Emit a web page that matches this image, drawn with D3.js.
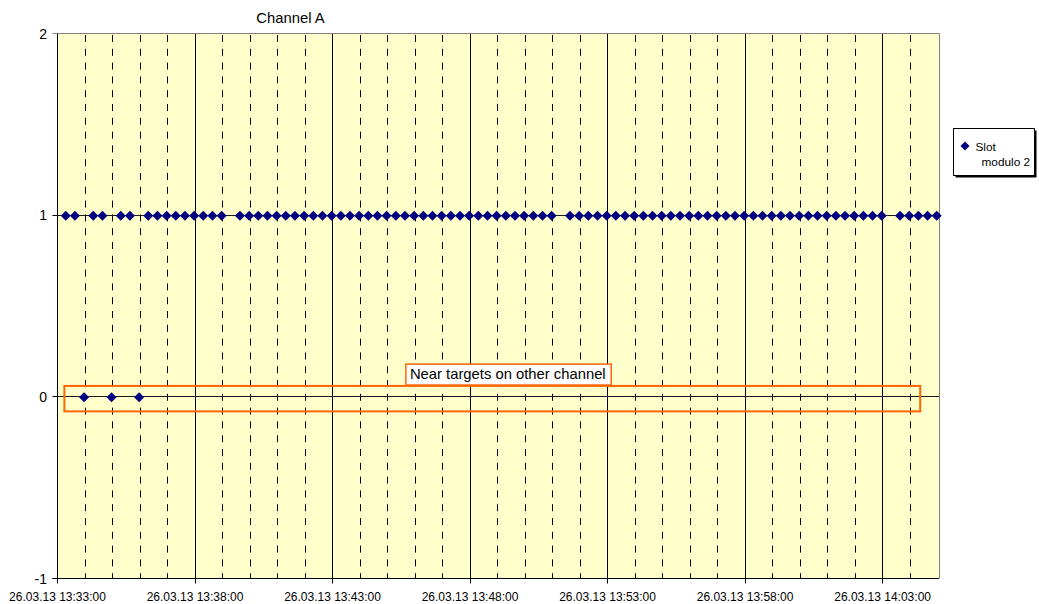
<!DOCTYPE html>
<html><head><meta charset="utf-8">
<script src="https://cdn.jsdelivr.net/npm/d3@7"></script>
<style>
body{margin:0;background:#fff}
svg{display:block;font-family:"Liberation Sans",Arial,Helvetica,sans-serif}
</style>
</head><body>
<svg id="chart" width="1039" height="604"></svg>
<script>
// ---------- data ----------
const chartDate = "26.03.13";
const times = [
 "13:33:18","13:33:38","13:33:58",
 "13:34:18","13:34:38","13:34:58",
 "13:35:18","13:35:38","13:35:58",
 "13:36:18","13:36:38","13:36:58",
 "13:37:18","13:37:38","13:37:58",
 "13:38:18","13:38:38","13:38:58",
 "13:39:18","13:39:38","13:39:58",
 "13:40:18","13:40:38","13:40:58",
 "13:41:18","13:41:38","13:41:58",
 "13:42:18","13:42:38","13:42:58",
 "13:43:18","13:43:38","13:43:58",
 "13:44:18","13:44:38","13:44:58",
 "13:45:18","13:45:38","13:45:58",
 "13:46:18","13:46:38","13:46:58",
 "13:47:18","13:47:38","13:47:58",
 "13:48:18","13:48:38","13:48:58",
 "13:49:18","13:49:38","13:49:58",
 "13:50:18","13:50:38","13:50:58",
 "13:51:18","13:51:38","13:51:58",
 "13:52:18","13:52:38","13:52:58",
 "13:53:18","13:53:38","13:53:58",
 "13:54:18","13:54:38","13:54:58",
 "13:55:18","13:55:38","13:55:58",
 "13:56:18","13:56:38","13:56:58",
 "13:57:18","13:57:38","13:57:58",
 "13:58:18","13:58:38","13:58:58",
 "13:59:18","13:59:38","13:59:58",
 "14:00:18","14:00:38","14:00:58",
 "14:01:18","14:01:38","14:01:58",
 "14:02:18","14:02:38","14:02:58",
 "14:03:18","14:03:38","14:03:58",
 "14:04:18","14:04:38","14:04:58"
];
const slotModulo2 = [
 1,1,0,
 1,1,0,
 1,1,0,
 1,1,1,
 1,1,1,
 1,1,1,
 null,1,1,
 1,1,1,
 1,1,1,
 1,1,1,
 1,1,1,
 1,1,1,
 1,1,1,
 1,1,1,
 1,1,1,
 1,1,1,
 1,1,1,
 1,1,1,
 null,1,1,
 1,1,1,
 1,1,1,
 1,1,1,
 1,1,1,
 1,1,1,
 1,1,1,
 1,1,1,
 1,1,1,
 1,1,1,
 1,1,1,
 1,1,1,
 null,1,1,
 1,1,1
];
const xTickLabels = [
 "26.03.13 13:33:00","26.03.13 13:38:00","26.03.13 13:43:00",
 "26.03.13 13:48:00","26.03.13 13:53:00","26.03.13 13:58:00",
 "26.03.13 14:03:00"
];
const xDomain = ["26.03.13 13:33:00","26.03.13 14:05:03"];
const yTicks = [-1, 0, 1, 2];
const yDomain = [-1, 2];
const chartTitle = "Channel A";
const legendLines = ["Slot", "modulo 2"];
const annotationText = "Near targets on other channel";
const annotationRange = ["26.03.13 13:33:15","26.03.13 14:04:22"];
const annotationValues = [0.06, -0.08];
const annotationLabelRange = ["26.03.13 13:45:40","26.03.13 13:53:08"];
const annotationLabelValues = [0.18, 0.065];

// ---------- drawing ----------
const parse = d3.timeParse("%d.%m.%y %H:%M:%S");
const svg = d3.select("#chart");
const L = 57.5, R = 939, T = 33.5, B = 578.5;
const x = d3.scaleTime().domain(xDomain.map(parse)).range([L, R]);
const y = d3.scaleLinear().domain(yDomain).range([B, T]);
const crisp = v => Math.round(v - 0.5) + 0.5;

// plot background
svg.append("rect").attr("x", L).attr("y", T).attr("width", R - L).attr("height", B - T)
  .attr("fill", "#FFFFCC");

// vertical gridlines
const majors = xTickLabels.map(parse);
const majorSet = new Set(majors.map(d => +d));
const minutes = d3.timeMinute.range(x.domain()[0], x.domain()[1])
  .filter(d => !majorSet.has(+d) && x(d) > L + 3 && x(d) < R - 3);
svg.append("g").selectAll("line").data(minutes).join("line")
  .attr("x1", d => crisp(x(d))).attr("x2", d => crisp(x(d)))
  .attr("y1", T + 1.5).attr("y2", B)
  .attr("stroke", "#000").attr("stroke-width", 1)
  .attr("stroke-dasharray", "7,6.8");
svg.append("g").selectAll("line").data(majors.filter(d => x(d) > L + 1)).join("line")
  .attr("x1", d => crisp(x(d))).attr("x2", d => crisp(x(d)))
  .attr("y1", T).attr("y2", B)
  .attr("stroke", "#000").attr("stroke-width", 1);

// horizontal gridlines
svg.append("g").selectAll("line").data(yTicks.filter(v => v > yDomain[0] && v < yDomain[1])).join("line")
  .attr("x1", L).attr("x2", R)
  .attr("y1", d => crisp(y(d))).attr("y2", d => crisp(y(d)))
  .attr("stroke", "#1a1a1a").attr("stroke-width", 1);

// plot border (top, right)
svg.append("path")
  .attr("d", `M${L},${crisp(y(2))}H${crisp(R)}V${B}`)
  .attr("fill", "none").attr("stroke", "#808080").attr("stroke-width", 1);

// y axis
const yAxisG = svg.append("g");
yAxisG.append("line").attr("x1", L).attr("x2", L).attr("y1", T).attr("y2", B).attr("stroke", "#000");
yAxisG.selectAll("line.t").data(yTicks).join("line").attr("class", "t")
  .attr("x1", L - 5).attr("x2", L).attr("y1", d => crisp(y(d))).attr("y2", d => crisp(y(d)))
  .attr("stroke", d => d === 2 ? "#808080" : "#000");
yAxisG.selectAll("text").data(yTicks).join("text")
  .attr("x", 47).attr("y", d => y(d) + 5)
  .attr("text-anchor", "end").attr("font-size", 14).attr("fill", "#000")
  .text(d => d);

// x axis
const xAxisG = svg.append("g");
xAxisG.append("line").attr("x1", L - 5).attr("x2", R).attr("y1", B).attr("y2", B).attr("stroke", "#000");
xAxisG.selectAll("line.t").data(majors).join("line").attr("class", "t")
  .attr("x1", d => crisp(x(d))).attr("x2", d => crisp(x(d)))
  .attr("y1", B).attr("y2", B + 5).attr("stroke", "#000");
xAxisG.selectAll("text").data(xTickLabels).join("text")
  .attr("x", d => x(parse(d))).attr("y", 600.5)
  .attr("text-anchor", "middle").attr("font-size", 12).attr("fill", "#000")
  .text(d => d);

// series markers
const diamond = "M0,-5L5,0L0,5L-5,0Z";
const pts = times.map((t, i) => ({t: parse(chartDate + " " + t), v: slotModulo2[i]})).filter(d => d.v !== null);
svg.append("g").selectAll("path").data(pts).join("path")
  .attr("d", diamond)
  .attr("transform", d => `translate(${x(d.t)},${y(d.v) + 0.5})`)
  .attr("fill", "#000080");

// annotation box
const ax0 = x(parse(annotationRange[0])), ax1 = x(parse(annotationRange[1]));
const ay0 = y(annotationValues[0]), ay1 = y(annotationValues[1]);
svg.append("rect").attr("x", ax0).attr("y", ay0).attr("width", ax1 - ax0).attr("height", ay1 - ay0)
  .attr("fill", "none").attr("stroke", "#FF6600").attr("stroke-width", 2);
const lx0 = x(parse(annotationLabelRange[0])), lx1 = x(parse(annotationLabelRange[1]));
const ly0 = y(annotationLabelValues[0]), ly1 = y(annotationLabelValues[1]);
svg.append("rect").attr("x", lx0).attr("y", ly0).attr("width", lx1 - lx0).attr("height", ly1 - ly0)
  .attr("fill", "#fff").attr("stroke", "#FF6600").attr("stroke-width", 1.5);
svg.append("text").attr("x", lx0 + 4).attr("y", ly1 - 6)
  .attr("font-size", 14.8).attr("fill", "#000").text(annotationText);

// title
svg.append("text").attr("x", 290.5).attr("y", 23)
  .attr("text-anchor", "middle").attr("font-size", 14.8).attr("fill", "#000").text(chartTitle);

// legend
const lg = svg.append("g");
lg.append("rect").attr("x", 955.5).attr("y", 130.5).attr("width", 81).attr("height", 47).attr("fill", "#000");
lg.append("rect").attr("x", 953.5).attr("y", 128.5).attr("width", 81).attr("height", 47)
  .attr("fill", "#fff").attr("stroke", "#000").attr("stroke-width", 1);
lg.append("path").attr("d", "M0,-4.5L4.5,0L0,4.5L-4.5,0Z").attr("transform", "translate(965,146)").attr("fill", "#000080");
lg.append("text").attr("x", 975.5).attr("y", 151).attr("font-size", 11.8).attr("fill", "#000").text(legendLines[0]);
lg.append("text").attr("x", 981.5).attr("y", 165.5).attr("font-size", 11.8).attr("fill", "#000").text(legendLines[1]);
</script>
</body></html>
